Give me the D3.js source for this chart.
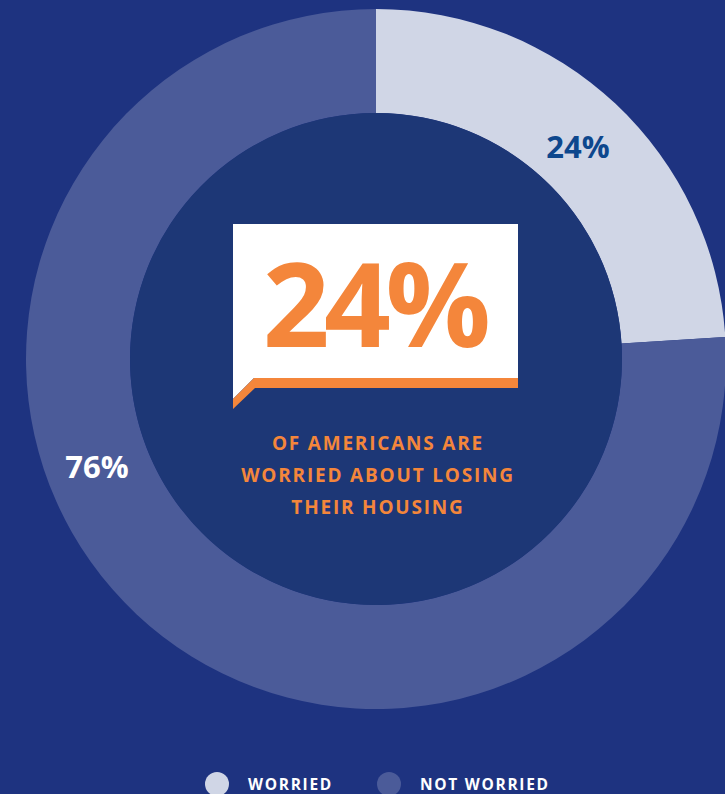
<!DOCTYPE html>
<html><head><meta charset="utf-8">
<script src="https://cdn.jsdelivr.net/npm/d3@7"></script>
<style>html,body{margin:0;padding:0;background:#1e3380;overflow:hidden}</style>
</head><body>
<svg id="c" width="725" height="794"></svg>
<script>
const categories = ["WORRIED", "NOT WORRIED"];
const values = [24, 76];
const sliceLabels = ["24%", "76%"];
const headline = "24%";
const subtitleLines = ["OF AMERICANS ARE", "WORRIED ABOUT LOSING", "THEIR HOUSING"];

const colors = ["#d0d6e6", "#4b5b99"];
const labelColors = ["#0d478d", "#ffffff"];
const orange = "#f4863b";
const font = "'Open Sans', sans-serif";

const svg = d3.select("#c");
svg.append("rect").attr("width", 725).attr("height", 794).attr("fill", "#1e3380");

const cx = 376, cy = 359, rOuter = 350, rInner = 246;
const g = svg.append("g").attr("transform", `translate(${cx},${cy})`);

const pie = d3.pie().sort(null).value(d => d);
const arcs = pie(values);
const arc = d3.arc().innerRadius(rInner).outerRadius(rOuter);
g.selectAll("path.slice").data(arcs).enter().append("path")
  .attr("class", "slice").attr("d", arc).attr("fill", (d, i) => colors[i]);

g.append("circle").attr("r", rInner).attr("fill", "#1d3776");

const labelPos = [[202, -213], [-279, 107]];
g.selectAll("text.sl").data(arcs).enter().append("text")
  .attr("class", "sl")
  .attr("x", (d, i) => labelPos[i][0])
  .attr("y", (d, i) => labelPos[i][1])
  .attr("text-anchor", "middle")
  .attr("dominant-baseline", "central")
  .attr("font-family", font).attr("font-weight", 700).attr("font-size", 31)
  .attr("fill", (d, i) => labelColors[i])
  .text((d, i) => sliceLabels[i]);

// callout bubble
const bx0 = 233, bx1 = 518, by0 = 224, by1 = 378, band = 10, tail = 21;
svg.append("path").attr("fill", "#ffffff")
  .attr("d", `M${bx0},${by0}L${bx1},${by0}L${bx1},${by1}L${bx0 + tail},${by1}L${bx0},${by1 + tail}Z`);
svg.append("path").attr("fill", orange)
  .attr("d", `M${bx1},${by1}L${bx1},${by1 + band}L${bx0 + tail + 1},${by1 + band}L${bx0},${by1 + band + tail}L${bx0},${by1 + tail}L${bx0 + tail},${by1}Z`);

svg.append("text").attr("x", 374).attr("y", 347)
  .attr("text-anchor", "middle")
  .attr("font-family", font).attr("font-weight", 700).attr("font-size", 117)
  .attr("letter-spacing", -5.5)
  .attr("fill", orange).text(headline);

svg.selectAll("text.sub").data(subtitleLines).enter().append("text")
  .attr("class", "sub")
  .attr("x", 378).attr("y", (d, i) => 450 + i * 32)
  .attr("text-anchor", "middle")
  .attr("font-family", font).attr("font-weight", 700).attr("font-size", 19)
  .attr("letter-spacing", 1.8)
  .attr("fill", orange).text(d => d);

// legend
const legX = [217, 389];
const leg = svg.selectAll("g.leg").data(categories).enter().append("g")
  .attr("class", "leg").attr("transform", (d, i) => `translate(${legX[i]},784)`);
leg.append("circle").attr("r", 12).attr("fill", (d, i) => colors[i]);
leg.append("text").attr("x", 31).attr("y", 5.5)
  .attr("font-family", font).attr("font-weight", 700).attr("font-size", 15.5)
  .attr("letter-spacing", 1.7)
  .attr("fill", "#ffffff").text(d => d);
</script>
</body></html>
